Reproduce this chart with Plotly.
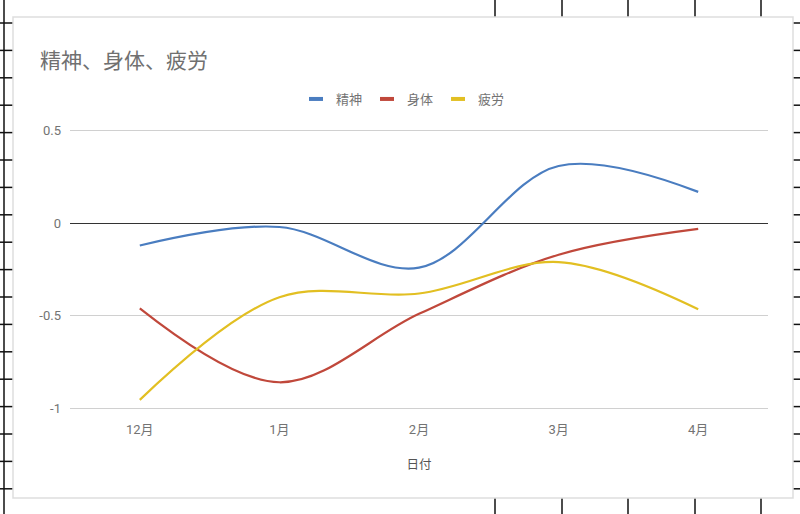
import plotly.graph_objects as go

# ---- data ----
months = ["12月", "1月", "2月", "3月", "4月"]
seishin = [-0.12, -0.02, -0.24, 0.31, 0.17]
shintai = [-0.46, -0.86, -0.49, -0.17, -0.03]
hirou = [-0.955, -0.40, -0.38, -0.21, -0.465]
series_names = ["精神", "身体", "疲労"]
series_colors = ["#4a7dc0", "#c0483b", "#e2bf22"]
ytick_vals = [-1, -0.5, 0, 0.5]
ytick_text = ["-1", "-0.5", "0", "0.5"]

FONT = "Roboto, 'Noto Sans CJK JP', sans-serif"
GREY = "#737373"

W, H = 800, 514
ML, MR, MT, MB = 70, 32, 129, 104
PW, PH = W - ML - MR, H - MT - MB


def px_x(p):
    return (p - ML) / PW


def px_y(p):
    return (H - MB - p) / PH


fig = go.Figure()

for name, vals, col in zip(series_names, [seishin, shintai, hirou], series_colors):
    fig.add_trace(go.Scatter(
        x=months, y=vals, mode="lines", name=name,
        line=dict(color=col, width=2.2, shape="spline", smoothing=1),
        showlegend=False, hoverinfo="x+y+name"))
    # legend-only entry with a short thick dash like Google Sheets
    fig.add_trace(go.Scatter(
        x=[None], y=[None], mode="markers", name=name,
        marker=dict(symbol="line-ew", size=10, color=col,
                    line=dict(color=col, width=4)),
        showlegend=True))

# ---- spreadsheet background decoration + chart card ----
shapes = []
blk = dict(color="#111111", width=1.5)
shapes.append(dict(type="line", xref="paper", yref="paper",
                   x0=px_x(4), x1=px_x(4), y0=px_y(0), y1=px_y(H), line=blk, layer="below"))
rows = [23 + 27.4 * k for k in range(18)]
for r in rows:
    shapes.append(dict(type="line", xref="paper", yref="paper",
                       x0=px_x(0), x1=px_x(13), y0=px_y(r), y1=px_y(r), line=blk, layer="below"))
    shapes.append(dict(type="line", xref="paper", yref="paper",
                       x0=px_x(793), x1=px_x(800), y0=px_y(r), y1=px_y(r), line=blk, layer="below"))
for c in [495, 562, 628, 695, 761]:
    shapes.append(dict(type="line", xref="paper", yref="paper",
                       x0=px_x(c), x1=px_x(c), y0=px_y(0), y1=px_y(17), line=blk, layer="below"))
    shapes.append(dict(type="line", xref="paper", yref="paper",
                       x0=px_x(c), x1=px_x(c), y0=px_y(498), y1=px_y(H), line=blk, layer="below"))
shapes.append(dict(type="rect", xref="paper", yref="paper",
                   x0=px_x(13), x1=px_x(793), y0=px_y(498), y1=px_y(17),
                   fillcolor="white", line=dict(color="#dedede", width=1.5), layer="below"))

fig.update_layout(
    width=W, height=H,
    margin=dict(l=ML, r=MR, t=MT, b=MB, pad=0),
    paper_bgcolor="white", plot_bgcolor="rgba(0,0,0,0)",
    font=dict(family=FONT, color=GREY, size=13),
    title=dict(text="精神、身体、疲労", font=dict(size=21, color="#707070", family=FONT),
               x=40 / W, xanchor="left", xref="container",
               y=1 - 61 / H, yanchor="middle", yref="container"),
    legend=dict(orientation="h", x=px_x(403), xanchor="center",
                y=px_y(99), yanchor="middle",
                font=dict(size=13, color=GREY), bgcolor="rgba(0,0,0,0)",
                itemclick=False),
    shapes=shapes,
    showlegend=True,
)

fig.update_xaxes(
    range=[-0.5, 4.5], showgrid=False, zeroline=False, showline=False,
    ticks="", tickfont=dict(size=13, color=GREY), ticklabelstandoff=10,
    title=dict(text="日付", font=dict(size=12.5, color="#555555"), standoff=24),
    fixedrange=True,
)
fig.update_yaxes(
    range=[-1.01, 0.51], tickvals=ytick_vals, ticktext=ytick_text,
    showgrid=True, gridcolor="#d0d0d0", gridwidth=1,
    zeroline=True, zerolinecolor="#333333", zerolinewidth=1,
    showline=False, ticks="", tickfont=dict(size=13, color=GREY),
    ticklabelstandoff=8, fixedrange=True,
)

fig.write_html("out.html")
